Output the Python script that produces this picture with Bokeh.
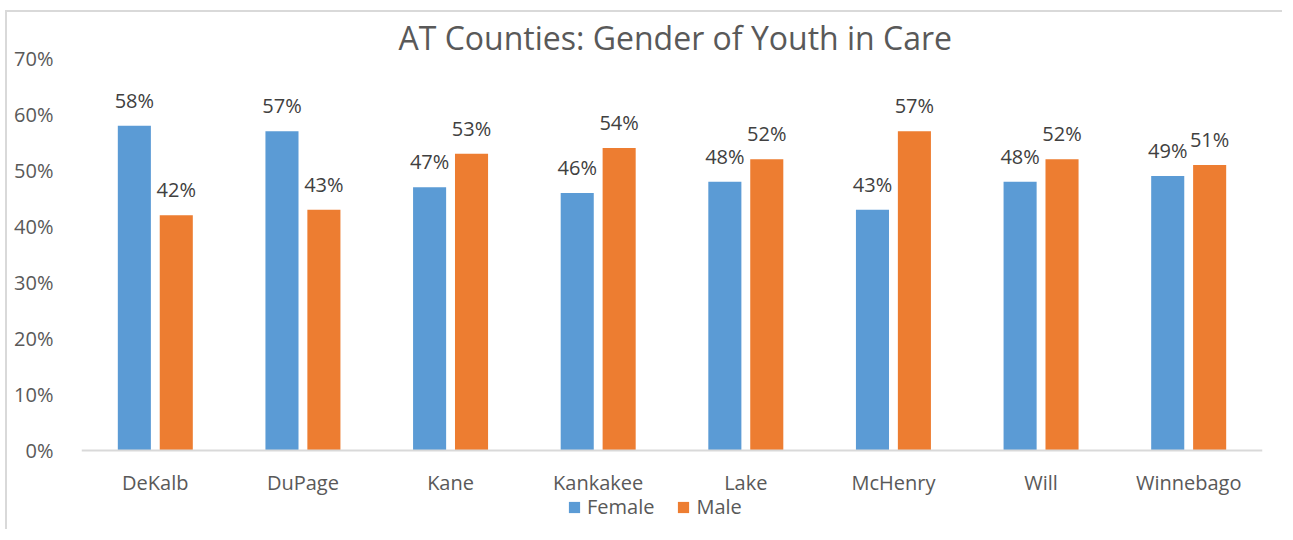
from bokeh.plotting import figure
from bokeh.models import (FactorRange, ColumnDataSource, LabelSet, Legend, LegendItem,
                          Title, NumeralTickFormatter, Range1d, FixedTicker)
from bokeh.core.properties import value
from bokeh.transform import dodge
from bokeh.embed import file_html
from bokeh.resources import INLINE

counties = ["DeKalb", "DuPage", "Kane", "Kankakee", "Lake", "McHenry", "Will", "Winnebago"]
female = [0.58, 0.57, 0.47, 0.46, 0.48, 0.43, 0.48, 0.49]
male = [0.42, 0.43, 0.53, 0.54, 0.52, 0.57, 0.52, 0.51]
y_ticks = [0, 0.1, 0.2, 0.3, 0.4, 0.5, 0.6, 0.7]

FONT = "Open Sans"
BLUE = "#5B9BD5"
ORANGE = "#ED7D31"
GREY_TXT = "#595959"

src = ColumnDataSource(dict(
    county=counties, female=female, male=male,
    flab=[f"{round(v*100)}%" for v in female],
    mlab=[f"{round(v*100)}%" for v in male],
))

H, TOP, BOT = 519, 46, 10
frame_h = H - TOP - BOT
y_lo = 0.7 - frame_h / 560.0   # extra room below zero for the category labels and legend

p = figure(x_range=FactorRange(*counties, range_padding=0), y_range=Range1d(y_lo, 0.7),
           width=1277, height=H, output_backend="svg", toolbar_location=None,
           min_border_left=74, min_border_right=22, min_border_top=TOP, min_border_bottom=BOT)
p.title = None
p.add_layout(Title(text="AT Counties: Gender of Youth in Care", align="left",
                   text_font=FONT, text_font_size="32px", text_color=GREY_TXT,
                   text_font_style="normal", standoff=0, offset=317), "above")

w = 0.224
off = 0.142
rf = p.vbar(x=dodge("county", -off, range=p.x_range), top="female", width=w, source=src,
            fill_color=BLUE, line_color=None)
rm = p.vbar(x=dodge("county", off, range=p.x_range), top="male", width=w, source=src,
            fill_color=ORANGE, line_color=None)

for col, lab, o in (("female", "flab", -off), ("male", "mlab", off)):
    p.add_layout(LabelSet(x=dodge("county", o, range=p.x_range), y=col, text=lab, source=src,
                          text_align="center", text_baseline="alphabetic", y_offset=18,
                          text_font=value(FONT), text_font_size="20px", text_color="#404040"))

p.outline_line_color = None
p.xgrid.grid_line_color = None
p.ygrid.grid_line_color = None
p.background_fill_color = "white"
p.border_fill_color = "white"

xa = p.xaxis[0]
xa.fixed_location = 0
xa.axis_line_color = "#d9d9d9"
xa.axis_line_width = 2
xa.major_tick_line_color = None
xa.minor_tick_line_color = None
xa.major_label_text_font = FONT
xa.major_label_text_font_size = "20px"
xa.major_label_text_color = GREY_TXT
xa.major_label_standoff = 12

ya = p.yaxis[0]
ya.ticker = FixedTicker(ticks=y_ticks)
ya.formatter = NumeralTickFormatter(format="0%")
ya.axis_line_color = None
ya.major_tick_line_color = None
ya.minor_tick_line_color = None
ya.major_label_text_font = FONT
ya.major_label_text_font_size = "20px"
ya.major_label_text_color = GREY_TXT
ya.major_label_standoff = 22

legend = Legend(items=[LegendItem(label="Female", renderers=[rf]),
                       LegendItem(label="Male", renderers=[rm])],
                orientation="horizontal", location=(486, 1),
                label_text_font=FONT, label_text_font_size="20px", label_text_color=GREY_TXT,
                glyph_width=14, glyph_height=14, spacing=22, padding=0, margin=0,
                label_standoff=6, border_line_color=None, background_fill_alpha=0)
p.add_layout(legend)

p.styles = {"margin-left": "5px", "margin-top": "10px",
            "border-top": "2px solid #d9d9d9", "border-left": "2px solid #d9d9d9"}

open("out.html", "w").write(file_html(p, INLINE))
